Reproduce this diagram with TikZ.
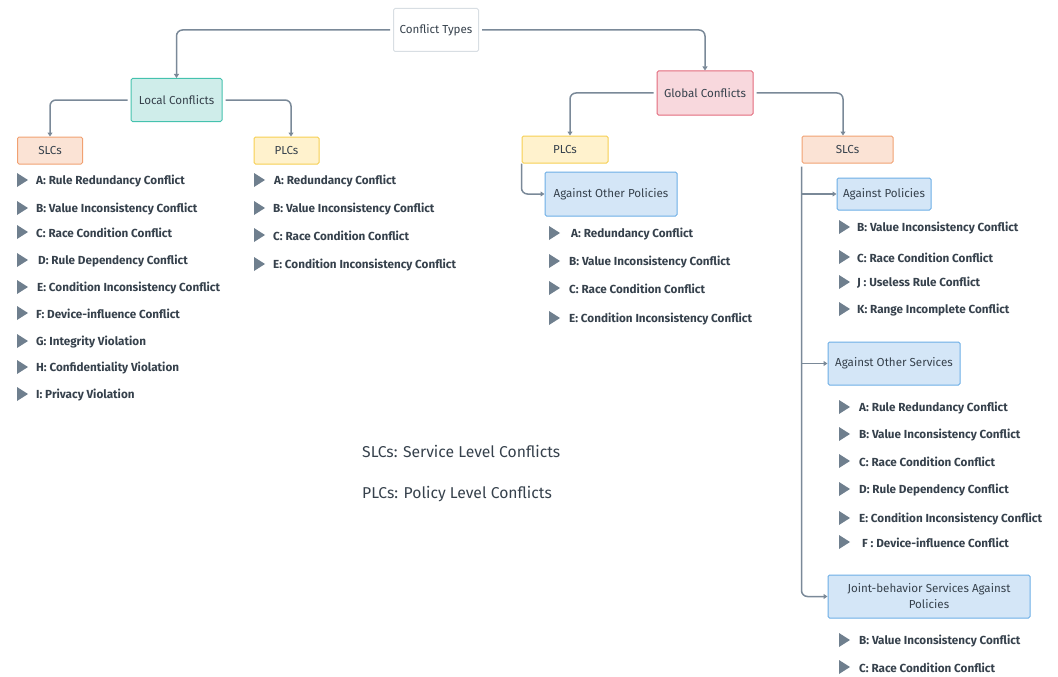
\documentclass[tikz,border=0pt]{standalone}
\usepackage{fontspec}
\setmainfont{Fira Sans}
\usetikzlibrary{arrows.meta}
\definecolor{ln}{HTML}{7A8998}
\definecolor{txt}{HTML}{36414C}
\definecolor{bulc}{HTML}{6F7F8E}
\definecolor{ctb}{HTML}{D8DEE3}
\definecolor{lcf}{HTML}{CFEDEA}\definecolor{lcd}{HTML}{45C2AE}
\definecolor{gcf}{HTML}{F8D8DD}\definecolor{gcd}{HTML}{E26A7C}
\definecolor{slf}{HTML}{FBE3D5}\definecolor{sld}{HTML}{F1A172}
\definecolor{plf}{HTML}{FFF2CD}\definecolor{pld}{HTML}{F6CF52}
\definecolor{agf}{HTML}{D4E6F7}\definecolor{agd}{HTML}{6CAEE6}
\newcommand\bl[5]{\fill[bulc] (#2,#4-7) -- (#2+11,#4) -- (#2,#4+7) -- cycle; \node[item] (#1) at (#3,#4+1) {#5};}
\begin{document}
\begin{tikzpicture}[x=1pt,y=-1pt,
  box/.style={draw, line width=1pt, rounded corners=1.5pt, align=center, text=txt, font=\fontsize{11.6}{16}\selectfont, inner sep=2pt},
  item/.style={anchor=west, text=txt, inner sep=0pt, font=\fontsize{11.7}{13}\selectfont\bfseries},
  conn/.style={draw=ln, line width=1.5pt, rounded corners=6pt, shorten <=3pt, -{Triangle[length=4pt,width=5pt]}},
  link/.style={draw=ln, line width=1.5pt, -{Triangle[length=4pt,width=5pt]}},
  legend/.style={anchor=west, text=txt, inner sep=0pt, font=\fontsize{15.7}{18}\selectfont}]
\useasboundingbox (0,0) rectangle (1058,677);
% boxes
\node[box, draw=ctb, fill=white, minimum width=85pt, minimum height=43pt] (ct) at (436,30) {Conflict Types};
\node[box, draw=lcd, fill=lcf, minimum width=91pt, minimum height=43pt] (lc) at (176.5,100) {Local Conflicts};
\node[box, draw=gcd, fill=gcf, minimum width=96pt, minimum height=44pt] (gc) at (705,93) {Global Conflicts};
\node[box, draw=sld, fill=slf, minimum width=65pt, minimum height=27pt] (ls) at (50,150.5) {SLCs};
\node[box, draw=pld, fill=plf, minimum width=65pt, minimum height=27pt] (lp) at (286.5,150.5) {PLCs};
\node[box, draw=pld, fill=plf, minimum width=86pt, minimum height=27pt] (gp) at (565,149.5) {PLCs};
\node[box, draw=sld, fill=slf, minimum width=91pt, minimum height=27pt] (gs) at (847.5,149.5) {SLCs};
\node[box, draw=agd, fill=agf, minimum width=132pt, minimum height=44pt] (aop) at (611,194) {Against Other Policies};
\node[box, draw=agd, fill=agf, minimum width=94pt, minimum height=32pt] (ap) at (884,194) {Against Policies};
\node[box, draw=agd, fill=agf, minimum width=132pt, minimum height=43pt] (aos) at (894,363.5) {Against Other Services};
\node[box, draw=agd, fill=agf, minimum width=202pt, minimum height=43pt] (jb) at (929,596.5) {Joint-behavior Services Against\\Policies};
% connectors
\draw[conn] (ct.west) -| (lc.north);
\draw[conn] (ct.east) -| (gc.north);
\draw[conn] (lc.west) -| (ls.north);
\draw[conn] (lc.east) -| ([xshift=4.5pt]lp.north);
\draw[conn] (gc.west) -| ([xshift=5pt]gp.north);
\draw[conn] (gc.east) -| ([xshift=-4.5pt]gs.north);
\draw[conn, shorten <=0pt] (gp.south west) |- (aop.west);
\draw[conn] (gs.south west) |- (jb.west);
\draw[link] (gs.south west |- ap.west) -- (ap.west);
\draw[link] (gs.south west |- aos.west) -- (aos.west);
% local SLC items
\bl{ls1}{17}{36}{180}{A: Rule Redundancy Conflict}
\bl{ls2}{17}{36}{208}{B: Value Inconsistency Conflict}
\bl{ls3}{17}{36}{232}{C: Race Condition Conflict}
\bl{ls4}{17}{38}{260}{D: Rule Dependency Conflict}
\bl{ls5}{17}{37}{287}{E: Condition Inconsistency Conflict}
\bl{ls6}{17}{36}{313}{F: Device-influence Conflict}
\bl{ls7}{17}{36}{341}{G: Integrity Violation}
\bl{ls8}{17}{36}{367}{H: Confidentiality Violation}
\bl{ls9}{17}{36}{394}{I: Privacy Violation}
% local PLC items
\bl{lp1}{254}{274}{180}{A: Redundancy Conflict}
\bl{lp2}{254}{273}{208}{B: Value Inconsistency Conflict}
\bl{lp3}{254}{273}{235}{C: Race Condition Conflict}
\bl{lp4}{254}{273}{264}{E: Condition Inconsistency Conflict}
% global PLC items
\bl{gp1}{549}{571}{233}{A: Redundancy Conflict}
\bl{gp2}{549}{569}{261}{B: Value Inconsistency Conflict}
\bl{gp3}{549}{569}{288}{C: Race Condition Conflict}
\bl{gp4}{549}{569}{318}{E: Condition Inconsistency Conflict}
% against policies
\bl{ap1}{839}{857}{227}{B: Value Inconsistency Conflict}
\bl{ap2}{839}{857}{257}{C: Race Condition Conflict}
\bl{ap3}{839}{857}{282}{J : Useless Rule Conflict}
\bl{ap4}{839}{857}{309}{K: Range Incomplete Conflict}
% against other services
\bl{as1}{839}{859}{407}{A: Rule Redundancy Conflict}
\bl{as2}{839}{859}{434}{B: Value Inconsistency Conflict}
\bl{as3}{839}{859}{461}{C: Race Condition Conflict}
\bl{as4}{839}{859}{489}{D: Rule Dependency Conflict}
\bl{as5}{839}{859}{518}{E: Condition Inconsistency Conflict}
\bl{as6}{839}{862}{542}{F : Device-influence Conflict}
% joint
\bl{jb1}{839}{859}{640}{B: Value Inconsistency Conflict}
\bl{jb2}{839}{859}{667}{C: Race Condition Conflict}
% legend
\node[legend] (lg1) at (362,451) {SLCs: Service Level Conflicts};
\node[legend] (lg2) at (362,494) {PLCs: Policy Level Conflicts};
\end{tikzpicture}
\end{document}
